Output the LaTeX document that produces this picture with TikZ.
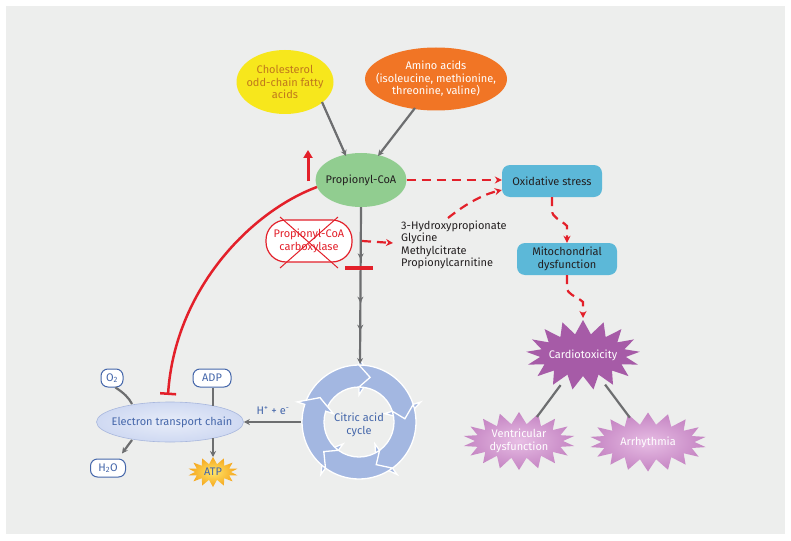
\documentclass[tikz,border=0pt]{standalone}
\usepackage{fontspec}
\setmainfont{Fira Sans}
\usetikzlibrary{shapes.geometric,shapes.symbols,arrows.meta,decorations.markings,calc}
\definecolor{bg}{HTML}{EDEEED}
\definecolor{myred}{HTML}{E3202A}
\definecolor{mygray}{HTML}{6D6E70}
\definecolor{chol}{HTML}{F7E71C}
\definecolor{choltext}{HTML}{C0781C}
\definecolor{amino}{HTML}{F17525}
\definecolor{propg}{HTML}{91CD90}
\definecolor{oxb}{HTML}{5CB8D8}
\definecolor{cardp}{HTML}{A65BA7}
\definecolor{lightp}{HTML}{E7BDE4}
\definecolor{midp}{HTML}{C585C3}
\definecolor{ringb}{HTML}{A3B7E1}
\definecolor{etcblue}{HTML}{4466AA}
\definecolor{etcin}{HTML}{E8EDF9}
\definecolor{etcout}{HTML}{CFD9F2}
\definecolor{etcdraw}{HTML}{A8B7DD}
\definecolor{atpin}{HTML}{FFE66A}
\definecolor{atpout}{HTML}{F5A51B}
\definecolor{txt}{HTML}{231F20}
\begin{document}
\begin{tikzpicture}[x=1pt,y=-1pt,
  font=\fontsize{11}{12.5}\selectfont,
  blob/.style={ellipse, inner sep=0pt},
  lbl/.style={align=center, inner sep=0pt},
  grayl/.style={draw=mygray, line width=2.2pt},
  graya/.style={draw=mygray, line width=2.2pt, -{Stealth[length=6pt,width=6pt]}},
  reddash/.style={draw=myred, line width=2.2pt, dash pattern=on 9pt off 6pt, -{Stealth[length=7pt,width=7pt]}},
  bluebox/.style={rectangle, rounded corners=8pt, fill=oxb, text=txt, minimum width=100pt, minimum height=32pt, inner sep=0pt, align=center},
  smallbox/.style={rectangle, rounded corners=7pt, draw=etcblue, line width=1pt, fill=white, text=etcblue, minimum height=18pt, inner sep=1.5pt},
  burst/.style={starburst, random starburst=0, inner sep=0pt}
]
% background
\fill[white] (0,0) rectangle (791,540);
\fill[bg] (6,6) rectangle (785,534);

% sources
\node[blob, fill=chol, minimum width=97pt, minimum height=64pt] (chol) at (285,82) {};
\node[lbl, text=choltext] (cholT) at (chol) {Cholesterol\\odd-chain fatty\\acids};
\node[blob, fill=amino, minimum width=142pt, minimum height=63pt] (amino) at (436,79) {};
\node[lbl, text=white] (aminoT) at (amino) {Amino acids\\(isoleucine, methionine,\\threonine, valine)};

% propionyl-CoA
\node[blob, fill=propg, minimum width=91pt, minimum height=54pt] (prop) at (361,180) {};
\node[lbl, text=txt] (propT) at (prop) {Propionyl-CoA};

\draw[graya] ($(chol.center)+(37,20)$) coordinate (cholS) -- ($(prop.center)+(-15,-24)$) coordinate (propA);
\draw[graya] ($(amino.center)+(-21,29)$) coordinate (aminoS) -- ($(prop.center)+(17,-24)$) coordinate (propB);

% red up arrow
\coordinate (upA) at (308,181);
\coordinate (upB) at (308,150);
\draw[myred, line width=3pt, -{Triangle[length=8pt,width=9pt]}] (upA) -- (upB);

% oxidative stress & mitochondrial dysfunction
\node[bluebox] (ox) at (552,181) {Oxidative stress};
\node[bluebox] (mito) at (567,259) {Mitochondrial\\dysfunction};

% carboxylase
\node[rectangle, rounded corners=20pt, draw=myred, line width=1.2pt, fill=white, text=myred,
      minimum width=86pt, minimum height=42pt, inner sep=0pt, align=center] (carb) at (309,241) {Propionyl-CoA\\carboxylase};
\draw[myred, line width=1pt] ($(carb.center)+(-29,-24)$) -- ($(carb.center)+(29,27)$);
\draw[myred, line width=1pt] ($(carb.center)+(29,-24)$) -- ($(carb.center)+(-29,27)$);

% metabolites
\node[align=left, inner sep=0pt, text=txt, anchor=west, font=\fontsize{11}{12.3}\selectfont] (met) at (401,245)
  {3-Hydroxypropionate\\Glycine\\Methylcitrate\\Propionylcarnitine};

% citric acid cycle ring
\begin{scope}[shift={(359,422)}, x=1pt, y=1pt]
  \foreach \h in {90,18,-54,-126,162}{
    \pgfmathsetmacro{\s}{\h+72}
    \pgfmathsetmacro{\sd}{\h+72-14}
    \pgfmathsetmacro{\hd}{\h-14}
    \fill[ringb, draw=white, line width=1.3pt, line join=miter]
      (\sd:46) -- (\s:57) arc[start angle=\s, end angle=\h, radius=57pt]
      -- (\h:65) -- (\hd:46) -- (\h:27) -- (\h:35)
      arc[start angle=\h, end angle=\s, radius=35pt] -- cycle;
  }
\end{scope}
\coordinate (cyc) at (359,422);
\coordinate (cyctop) at (360,364);
\coordinate (cycleft) at (301,422);
\node[lbl, text=etcblue] (cycT) at (359,425) {Citric acid\\cycle};

% main vertical pathway
\draw[grayl, -{Stealth[length=6pt,width=6pt]}, postaction={decorate},
  decoration={markings,
    mark=at position 0.333 with {\arrow{Stealth[length=6pt,width=6pt]}},
    mark=at position 0.609 with {\arrow{Stealth[length=6pt,width=6pt]}},
    mark=at position 0.788 with {\arrow{Stealth[length=6pt,width=6pt]}}}]
  (prop.south) -- (cyctop);
\coordinate (barL) at (345,268);
\coordinate (barR) at (373,268);
\draw[myred, line width=4pt] (barL) -- (barR);

% red dashed connections
\draw[reddash] (carb.east -| 362,0) -- ($(met.west)+(-8,-2)$);
\draw[reddash] (prop.east) -- (prop.east -| ox.west);
\coordinate (metTop) at (448,218);
\draw[reddash] (metTop) .. controls (468,202) and (485,194) .. ($(ox.west)+(0,9)$);
\draw[reddash] (ox.south) -- (552,210) .. controls (552,218) and (560,219) .. (567,226) -- (mito.north);

% cardiotoxicity
\node[burst, starburst points=17, starburst point height=14pt, fill=cardp, minimum width=114pt, minimum height=70pt] (card) at (583,355) {};
\node[lbl, text=white] (cardT) at (card) {Cardiotoxicity};
\draw[reddash] (mito.south) -- (567,287) .. controls (567,295) and (575,295) .. (583,302) -- ($(card.center)+(0,-37)$);

\node[burst, starburst points=18, starburst point height=12pt, shading=radial, inner color=lightp, outer color=midp, minimum width=112pt, minimum height=58pt] (vent) at (519,441) {};
\node[lbl, text=white] (ventT) at (vent) {Ventricular\\dysfunction};
\node[burst, starburst points=18, starburst point height=12pt, shading=radial, inner color=lightp, outer color=midp, minimum width=117pt, minimum height=59pt] (arr) at (648,442) {};
\node[lbl, text=white] (arrT) at (arr) {Arrhythmia};
\draw[grayl] ($(card)!0.35!(vent)$) -- ($(card)!0.72!(vent)$);
\draw[grayl] ($(card)!0.34!(arr)$) -- ($(card)!0.72!(arr)$);

% electron transport chain
\node[blob, shading=radial, inner color=etcin, outer color=etcout, draw=etcdraw, line width=0.6pt, minimum width=147pt, minimum height=40pt] (etc) at (170,422) {};
\node[lbl, text=etcblue] (etcT) at (172,422) {Electron transport chain};

\node[smallbox, minimum width=22pt] (o2) at (112,378) {O\textsubscript{2}};
\node[smallbox, minimum width=38pt] (adp) at (212,378) {ADP};
\node[smallbox, minimum width=35pt] (h2o) at (108,468) {H\textsubscript{2}O};
\node[burst, starburst points=14, starburst point height=7pt, shading=radial, inner color=atpin, outer color=atpout, minimum width=50pt, minimum height=30pt] (atp) at (213,472) {};
\node[lbl, text=etcblue] (atpT) at (atp) {ATP};

\draw[grayl] (o2.-70) .. controls (124,393) and (129,398) .. ($(etc.center)+(-38,-18)$);
\draw[grayl] (adp.south -| 213,0) -- ($(etc.center)+(43,-16)$);
\draw[graya] ($(etc.center)+(-38,18)$) -- ($(h2o.north)+(14,-5)$);
\draw[graya] ($(etc.center)+(43,16)$) -- ($(atp.center)+(0,-15)$);
\draw[graya] (cycleft) -- (etc.east);
\node[lbl, text=etcblue] (hplus) at (273,411) {H\textsuperscript{+} + e\textsuperscript{-}};

% inhibition of ETC
\draw[myred, line width=2.5pt, -{Bar[width=16pt,line width=2.5pt]}] ($(prop.center)+(-44,7)$) .. controls (250,212) and (175,290) .. ($(etc.center)+(-2,-27)$);
\end{tikzpicture}
\end{document}
